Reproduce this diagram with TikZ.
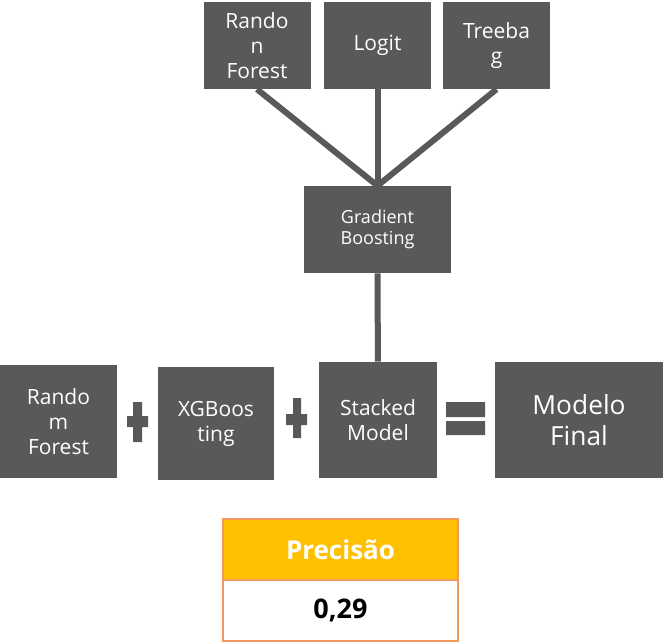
\documentclass[tikz,border=0pt]{standalone}
\usepackage{fontspec}
\setmainfont{Open Sans}
\usepackage{tikz}
\usetikzlibrary{positioning,backgrounds}
\definecolor{boxgray}{HTML}{595959}
\definecolor{headgold}{HTML}{FFC000}
\definecolor{tableline}{HTML}{F19A5E}

\begin{document}
\begin{tikzpicture}[x=0.75pt, y=-0.75pt,
  box/.style={rectangle, fill=boxgray, text=white, align=center, inner sep=0pt, minimum width=80.25pt, minimum height=65.25pt, font=\fontsize{15.75}{18.75}\selectfont},
  link/.style={draw=boxgray, line width=4.5pt},
  cell/.style={rectangle, draw=tableline, line width=1.1pt, minimum width=176.25pt, minimum height=45.75pt, inner sep=0pt, font=\bfseries\fontsize{19.5}{22}\selectfont}]
\useasboundingbox (0,0) rectangle (664,643);

\node[box] (rf) at (257,45.5) {Rando\\n\\Forest};
\node[box] (logit) at (377.5,45.5) {Logit};
\node[box] (tb) at (496.5,45.5) {Treeba\\g};
\node[box, minimum width=110.25pt, font=\fontsize{13.5}{15.5}\selectfont] (gb) at (377.5,229.5) {Gradient\\Boosting};

\node[box, minimum width=87.75pt, minimum height=84.75pt] (rfb) at (58.5,421.5) {Rando\\m\\Forest};
\node[box, minimum width=87pt, minimum height=84.75pt] (xgb) at (216,423.5) {XGBoos\\ting};
\node[box, minimum width=88.5pt, minimum height=87pt] (stk) at (378,420) {Stacked\\Model};
\node[box, minimum width=126pt, minimum height=87pt, font=\fontsize{19.75}{23.5}\selectfont] (final) at (579,420) {Modelo\\Final};

\fill[boxgray] (127,416) rectangle (148,427) (133,402) rectangle (142,442);
\fill[boxgray] (286,414) rectangle (307,425) (293,398) rectangle (301,438);
\fill[boxgray] (446,402) rectangle (485,417) (446,421) rectangle (485,435);

\node[cell, fill=headgold, text=white] (head) at (340.5,549.5) {Precisão};
\node[cell, fill=white, font=\bfseries\fontsize{20.25}{23}\selectfont] (score) at (340.5,610.5) {0,29};

\begin{scope}[on background layer]
\draw[link] (rf.south) -- (gb.north);
\draw[link] (logit) -- (gb);
\draw[link] (tb.south) -- (gb.north);
\draw[link] (gb) -- (stk);
\end{scope}
\end{tikzpicture}
\end{document}
